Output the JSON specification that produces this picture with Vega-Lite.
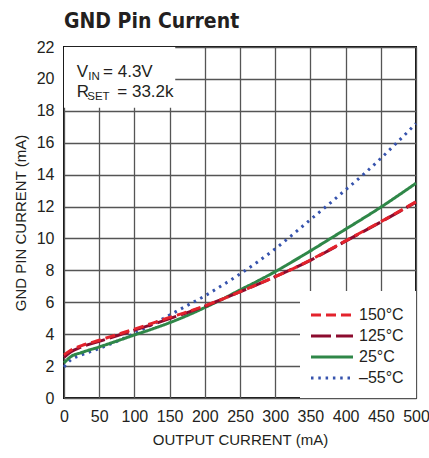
{
  "$schema": "https://vega.github.io/schema/vega-lite/v6.json",
  "width": 352,
  "height": 351,
  "autosize": {"type": "none"},
  "padding": {"left": 64, "top": 47, "right": 13, "bottom": 60},
  "background": "white",
  "title": {
    "text": "GND Pin Current",
    "anchor": "start",
    "frame": "group",
    "font": "DejaVu Sans Condensed, Liberation Sans, sans-serif",
    "fontSize": 21,
    "fontWeight": "bold",
    "color": "#231f20",
    "offset": 7
  },
  "config": {
    "view": {"stroke": "#111", "strokeWidth": 2},
    "axis": {
      "grid": true,
      "gridColor": "#555555",
      "gridWidth": 1.3,
      "gridOpacity": 1,
      "domain": false,
      "ticks": false,
      "labelFont": "Liberation Sans, sans-serif",
      "labelFontSize": 16,
      "labelColor": "#231f20",
      "labelFlush": false,
      "titleFont": "Liberation Sans, sans-serif",
      "titleFontSize": 15,
      "titleFontWeight": "normal",
      "titleColor": "#231f20"
    },
    "legend": {
      "orient": "bottom-right",
      "offset": 0,
      "fillColor": "white",
      "padding": 12,
      "symbolType": "M-2,0H2",
      "symbolSize": 441,
      "symbolOffset": 8,
      "symbolStrokeWidth": 3,
      "labelFont": "Liberation Sans, sans-serif",
      "labelFontSize": 16,
      "labelColor": "#231f20",
      "rowPadding": 1,
      "labelOffset": 15
    }
  },
  "data": {
    "values": [
      {"temp": "–55°C", "x": 0, "y": 1.95},
      {"temp": "–55°C", "x": 10, "y": 2.4},
      {"temp": "–55°C", "x": 25, "y": 2.7},
      {"temp": "–55°C", "x": 50, "y": 3.1},
      {"temp": "–55°C", "x": 75, "y": 3.55},
      {"temp": "–55°C", "x": 100, "y": 4.05},
      {"temp": "–55°C", "x": 125, "y": 4.6},
      {"temp": "–55°C", "x": 150, "y": 5.2},
      {"temp": "–55°C", "x": 175, "y": 5.8},
      {"temp": "–55°C", "x": 200, "y": 6.4},
      {"temp": "–55°C", "x": 225, "y": 7.07},
      {"temp": "–55°C", "x": 250, "y": 7.77},
      {"temp": "–55°C", "x": 275, "y": 8.53},
      {"temp": "–55°C", "x": 300, "y": 9.35},
      {"temp": "–55°C", "x": 325, "y": 10.25},
      {"temp": "–55°C", "x": 350, "y": 11.18},
      {"temp": "–55°C", "x": 375, "y": 12.1},
      {"temp": "–55°C", "x": 400, "y": 13.05},
      {"temp": "–55°C", "x": 425, "y": 14.0},
      {"temp": "–55°C", "x": 450, "y": 15.02},
      {"temp": "–55°C", "x": 475, "y": 16.1},
      {"temp": "–55°C", "x": 500, "y": 17.2},
      {"temp": "25°C", "x": 0, "y": 2.2},
      {"temp": "25°C", "x": 10, "y": 2.6},
      {"temp": "25°C", "x": 25, "y": 2.85},
      {"temp": "25°C", "x": 50, "y": 3.2},
      {"temp": "25°C", "x": 75, "y": 3.57},
      {"temp": "25°C", "x": 100, "y": 3.95},
      {"temp": "25°C", "x": 125, "y": 4.32},
      {"temp": "25°C", "x": 150, "y": 4.72},
      {"temp": "25°C", "x": 175, "y": 5.17},
      {"temp": "25°C", "x": 200, "y": 5.67},
      {"temp": "25°C", "x": 225, "y": 6.2},
      {"temp": "25°C", "x": 250, "y": 6.77},
      {"temp": "25°C", "x": 275, "y": 7.33},
      {"temp": "25°C", "x": 300, "y": 7.92},
      {"temp": "25°C", "x": 325, "y": 8.56},
      {"temp": "25°C", "x": 350, "y": 9.22},
      {"temp": "25°C", "x": 375, "y": 9.9},
      {"temp": "25°C", "x": 400, "y": 10.58},
      {"temp": "25°C", "x": 425, "y": 11.26},
      {"temp": "25°C", "x": 450, "y": 11.96},
      {"temp": "25°C", "x": 475, "y": 12.7},
      {"temp": "25°C", "x": 500, "y": 13.46},
      {"temp": "125°C", "x": 0, "y": 2.55},
      {"temp": "125°C", "x": 10, "y": 2.9},
      {"temp": "125°C", "x": 25, "y": 3.2},
      {"temp": "125°C", "x": 50, "y": 3.55},
      {"temp": "125°C", "x": 75, "y": 3.9},
      {"temp": "125°C", "x": 100, "y": 4.25},
      {"temp": "125°C", "x": 125, "y": 4.6},
      {"temp": "125°C", "x": 150, "y": 4.98},
      {"temp": "125°C", "x": 175, "y": 5.35},
      {"temp": "125°C", "x": 200, "y": 5.75},
      {"temp": "125°C", "x": 225, "y": 6.2},
      {"temp": "125°C", "x": 250, "y": 6.65},
      {"temp": "125°C", "x": 275, "y": 7.12},
      {"temp": "125°C", "x": 300, "y": 7.6},
      {"temp": "125°C", "x": 325, "y": 8.1},
      {"temp": "125°C", "x": 350, "y": 8.63},
      {"temp": "125°C", "x": 375, "y": 9.22},
      {"temp": "125°C", "x": 400, "y": 9.83},
      {"temp": "125°C", "x": 425, "y": 10.43},
      {"temp": "125°C", "x": 450, "y": 11.03},
      {"temp": "125°C", "x": 475, "y": 11.65},
      {"temp": "125°C", "x": 500, "y": 12.28},
      {"temp": "150°C", "x": 0, "y": 2.7},
      {"temp": "150°C", "x": 10, "y": 3.0},
      {"temp": "150°C", "x": 25, "y": 3.28},
      {"temp": "150°C", "x": 50, "y": 3.62},
      {"temp": "150°C", "x": 75, "y": 3.97},
      {"temp": "150°C", "x": 100, "y": 4.32},
      {"temp": "150°C", "x": 125, "y": 4.68},
      {"temp": "150°C", "x": 150, "y": 5.05},
      {"temp": "150°C", "x": 175, "y": 5.4},
      {"temp": "150°C", "x": 200, "y": 5.78},
      {"temp": "150°C", "x": 225, "y": 6.2},
      {"temp": "150°C", "x": 250, "y": 6.66},
      {"temp": "150°C", "x": 275, "y": 7.13},
      {"temp": "150°C", "x": 300, "y": 7.6},
      {"temp": "150°C", "x": 325, "y": 8.1},
      {"temp": "150°C", "x": 350, "y": 8.65},
      {"temp": "150°C", "x": 375, "y": 9.24},
      {"temp": "150°C", "x": 400, "y": 9.85},
      {"temp": "150°C", "x": 425, "y": 10.45},
      {"temp": "150°C", "x": 450, "y": 11.05},
      {"temp": "150°C", "x": 475, "y": 11.67},
      {"temp": "150°C", "x": 500, "y": 12.3}
    ]
  },
  "encoding": {
    "x": {
      "field": "x",
      "type": "quantitative",
      "scale": {"domain": [0, 500], "nice": false, "zero": false},
      "axis": {"title": "OUTPUT CURRENT (mA)", "values": [0, 50, 100, 150, 200, 250, 300, 350, 400, 450, 500], "labelPadding": 10, "titlePadding": 8, "labelOverlap": false}
    },
    "y": {
      "field": "y",
      "type": "quantitative",
      "scale": {"domain": [0, 22], "nice": false, "zero": false},
      "axis": {"title": "GND PIN CURRENT (mA)", "values": [0, 2, 4, 6, 8, 10, 12, 14, 16, 18, 20, 22], "labelPadding": 10, "titlePadding": 8, "labelOverlap": false}
    }
  },
  "layer": [
    {
      "mark": {"type": "line", "strokeWidth": 3, "strokeCap": "butt", "interpolate": "monotone"},
      "encoding": {
        "color": {
          "field": "temp",
          "type": "nominal",
          "sort": ["150°C", "125°C", "25°C", "–55°C"],
          "scale": {"domain": ["150°C", "125°C", "25°C", "–55°C"], "range": ["#e3232c", "#8c0b2e", "#2f8748", "#3653ad"]},
          "legend": {"title": null}
        },
        "strokeDash": {
          "field": "temp",
          "type": "nominal",
          "sort": ["150°C", "125°C", "25°C", "–55°C"],
          "scale": {"domain": ["150°C", "125°C", "25°C", "–55°C"], "range": [[10, 5], [20, 5], [1, 0], [2.5, 4.8]]},
          "legend": {"title": null}
        },
        "order": {"field": "x", "type": "quantitative"}
      }
    },
    {
      "transform": [{"filter": "datum.x == 0 && datum.temp == '25°C'"}],
      "mark": {"type": "rect", "fill": "white"},
      "encoding": {
        "x": {"datum": 0},
        "x2": {"datum": 158},
        "y": {"datum": 18.2},
        "y2": {"datum": 22}
      }
    },
    {
      "transform": [{"filter": "datum.x == 0 && datum.temp == '25°C'"}],
      "mark": {"type": "text", "align": "left", "baseline": "alphabetic", "fontSize": 17, "font": "Liberation Sans", "color": "#231f20"},
      "encoding": {"x": {"datum": 18}, "y": {"datum": 20.1}, "text": {"value": "V"}}
    },
    {
      "transform": [{"filter": "datum.x == 0 && datum.temp == '25°C'"}],
      "mark": {"type": "text", "align": "left", "baseline": "alphabetic", "fontSize": 11.5, "dy": 3, "font": "Liberation Sans", "color": "#231f20"},
      "encoding": {"x": {"datum": 34.5}, "y": {"datum": 20.1}, "text": {"value": "IN"}}
    },
    {
      "transform": [{"filter": "datum.x == 0 && datum.temp == '25°C'"}],
      "mark": {"type": "text", "align": "left", "baseline": "alphabetic", "fontSize": 17, "font": "Liberation Sans", "color": "#231f20"},
      "encoding": {"x": {"datum": 55.5}, "y": {"datum": 20.1}, "text": {"value": "= 4.3V"}}
    },
    {
      "transform": [{"filter": "datum.x == 0 && datum.temp == '25°C'"}],
      "mark": {"type": "text", "align": "left", "baseline": "alphabetic", "fontSize": 17, "font": "Liberation Sans", "color": "#231f20"},
      "encoding": {"x": {"datum": 18}, "y": {"datum": 18.85}, "text": {"value": "R"}}
    },
    {
      "transform": [{"filter": "datum.x == 0 && datum.temp == '25°C'"}],
      "mark": {"type": "text", "align": "left", "baseline": "alphabetic", "fontSize": 11.5, "dy": 3, "font": "Liberation Sans", "color": "#231f20"},
      "encoding": {"x": {"datum": 33}, "y": {"datum": 18.85}, "text": {"value": "SET"}}
    },
    {
      "transform": [{"filter": "datum.x == 0 && datum.temp == '25°C'"}],
      "mark": {"type": "text", "align": "left", "baseline": "alphabetic", "fontSize": 17, "font": "Liberation Sans", "color": "#231f20"},
      "encoding": {"x": {"datum": 75.7}, "y": {"datum": 18.85}, "text": {"value": "= 33.2k"}}
    }
  ]
}
